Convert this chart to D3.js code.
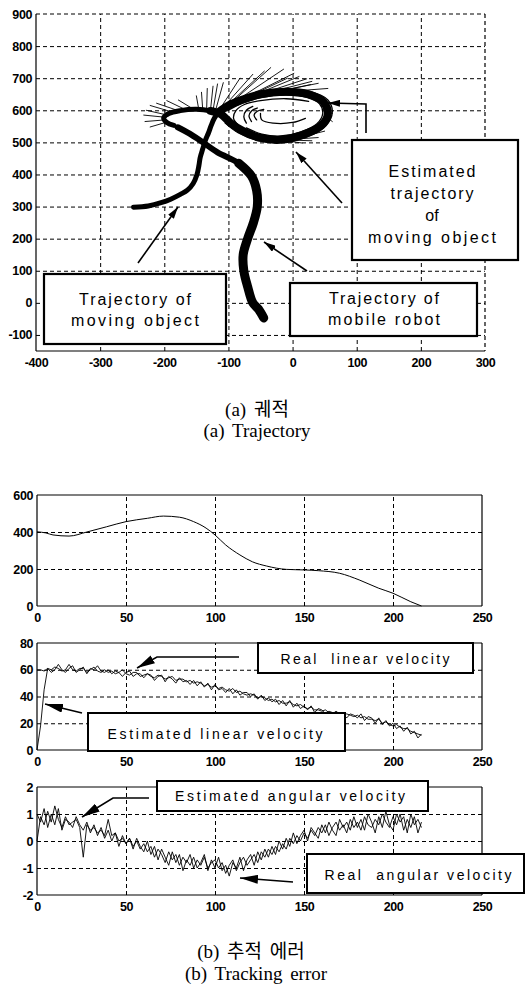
<!DOCTYPE html>
<html>
<head>
<meta charset="utf-8">
<script src="https://cdn.jsdelivr.net/npm/d3@7"></script>
<style>
  body { margin: 0; background: #fff; }
  svg { display: block; }
</style>
</head>
<body>
<script>
// ---- data ----
// (a) trajectory plot
const trajXTicks = [-400, -300, -200, -100, 0, 100, 200, 300];
const trajYTicks = [-100, 0, 100, 200, 300, 400, 500, 600, 700, 800, 900];

// mobile robot (x, y) from the end dot upward
const robotPath = [[-45,-47],[-53,-20],[-62,0],[-70,50],[-76,100],[-77,150],[-70,200],[-61,250],
  [-55,300],[-56,350],[-64,395],[-84,435],[-117,469],[-144,506],[-164,531],[-179,547]];

// moving object: start, loop, hook
const objectPath = [[-248,298],[-225,302],[-205,312],[-190,323],[-175,338],[-164,351],[-155,372],
  [-149,400],[-146,428],[-144,453],[-140,480],[-136,506],[-131,530],[-127,552],[-122,575],[-115,595],
  [-100,615],[-80,632],[-50,650],[-10,658],[25,650],[48,626],[55,590],[45,553],[15,523],[-19,508],
  [-50,514],[-77,535],[-97,561],[-112,588],[-128,598],[-150,603],[-175,599],[-193,590],[-201,576],
  [-196,562],[-185,553]];

// estimated trajectory strands inside / around the loop
const loopStrands = [
  [[-105,610],[-80,638],[-45,660],[-5,666],[30,657],[55,632],[62,595],[52,552],[20,515],[-20,500],[-55,506],[-85,530],[-105,560]],
  [[-100,600],[-78,622],[-48,640],[-10,647],[22,640],[42,620],[47,590],[38,558],[12,532],[-18,520],[-48,526],[-72,545]],
  [[-72,560],[-76,580],[-72,600],[-62,612]],
  [[-64,565],[-68,582],[-64,598],[-55,607]],
  [[-56,570],[-60,585],[-55,597],[-45,603]],
  [[-50,590],[-48,570],[-30,560],[0,562],[20,575]],
  [[-85,555],[-92,575],[-88,600],[-75,618],[-50,630],[-10,636],[25,628]]
];

// short estimated trajectories [x1, y1, x2, y2]
const estStrokes = [
  [-195,585,-228,600],[-197,578,-232,585],[-199,570,-230,565],[-198,562,-222,548],
  [-190,596,-222,615],[-180,600,-212,622],[-168,603,-196,630],[-155,604,-178,632],
  [-146,600,-150,645],[-140,600,-142,656],[-134,600,-133,668],[-128,600,-124,675],
  [-124,600,-117,682],[-120,600,-108,686],
  [-114,602,-82,700],[-110,605,-62,712],[-106,608,-44,722],[-102,612,-34,733],
  [-98,616,-14,728],[-92,622,2,715],[-84,628,-8,700],[-74,636,10,705],[-64,642,22,698],
  [-54,647,30,690],[-44,651,40,684],[-30,655,28,680],[-18,657,55,668],
  [-40,512,0,500],[-30,510,15,498],[-15,508,30,505],[0,510,40,515],[20,520,50,535],
  [50,600,62,590],[52,580,62,565],[48,630,58,620]
];

// (b) tracking error plots
const timeTicks = [0, 50, 100, 150, 200, 250];
const distTicks = [0, 200, 400, 600];
const linTicks = [0, 20, 40, 60, 80];
const angTicks = [-2, -1, 0, 1, 2];

const distT = [0,5,9,18,28,39,50,62,71,80,88,95,100,106,114,121,129,140,150,158,170,181,192,200,210,216];
const distV = [401,395,384,378,400,428,456,474,486,480,456,421,384,330,276,239,216,198,195,191,177,141,96,69,23,0];

// samples every 2 time units, t = 0 .. 216
const velT = d3.range(0, 217, 2);

const realLin = [
  60,60,59,61,60,62,61,59,60,64, 60,59,61,61,58,60,62,59,58,60,
  58,59,57,58,60,57,56,58,58,55, 56,57,55,54,56,55,53,54,55,52,
  53,53,51,52,50,51,50,48,49,47, 48,46,47,45,44,46,43,44,42,41,
  42,41,39,40,39,37,38,36,37,35, 35,36,34,33,34,32,31,32,30,30,
  29,30,28,27,29,27,26,27,26,25, 26,24,25,23,23,22,23,20,21,19,
  18,19,17,16,16,14,13,12,11];

const estLin = [
  0,18,45,61,58,60,64,60,58,61, 63,58,60,62,57,61,60,63,59,58,
  60,57,59,58,55,58,59,55,57,57, 54,57,56,52,55,56,51,55,53,50,
  54,51,52,49,52,48,51,47,50,45, 49,45,46,43,46,42,45,41,43,43,
  40,42,38,41,37,39,36,38,34,37, 33,37,32,35,31,33,30,33,28,31,
  30,27,29,28,25,28,27,24,27,26, 24,27,22,25,24,20,24,19,22,18,
  20,16,18,14,17,12,14,9,12];

const realAng = [
  0.0,0.9,0.6,1.1,0.7,1.3,0.8,0.5,0.9,0.6, 0.7,0.8,0.5,-0.6,0.6,0.4,0.5,0.3,0.4,0.2,
  0.8,0.2,0.3,0.0,0.1,-0.1,0.1,-0.2,0.0,-0.3, -0.1,-0.4,-0.2,-0.6,-0.3,-0.5,-0.8,-0.4,-0.7,-0.5,
  -0.9,-0.6,-0.8,-0.5,-1.0,-0.7,-0.9,-0.6,-1.0,-0.8, -0.7,-1.0,-0.8,-1.2,-0.9,-0.7,-1.1,-0.8,-0.6,-0.9,
  -0.7,-0.5,-0.8,-0.4,-0.6,-0.3,-0.5,-0.2,-0.4,-0.1, -0.3,0.1,-0.1,0.2,0.0,0.3,0.1,0.4,0.2,0.5,
  0.3,0.6,0.2,0.5,0.7,0.4,0.6,0.3,0.8,0.5, 0.7,0.4,0.9,0.6,0.5,0.8,0.6,1.0,0.7,0.5,
  0.9,0.6,1.0,0.4,0.8,0.5,0.9,0.3,0.7];

const estAng = [
  1.0,0.7,1.2,0.5,1.0,0.6,1.2,0.4,0.8,0.7, 0.5,0.9,0.6,0.4,0.7,0.3,0.6,0.2,0.5,0.1,
  0.4,0.0,0.3,-0.2,0.2,-0.1,0.1,-0.3,0.1,-0.2, -0.4,0.0,-0.5,-0.2,-0.7,-0.3,-0.6,-0.9,-0.4,-0.8,
  -0.5,-1.1,-0.7,-0.9,-0.6,-1.0,-0.8,-0.5,-1.1,-0.7, -1.0,-0.6,-1.1,-0.9,-1.3,-0.8,-1.0,-0.6,-1.1,-0.7,
  -0.5,-0.9,-0.4,-0.7,-0.3,-0.6,-0.2,-0.5,0.0,-0.3, 0.1,-0.2,0.3,-0.1,0.2,0.4,0.0,0.5,0.3,0.1,
  0.6,0.3,0.7,0.4,0.2,0.8,0.5,0.7,0.4,0.9, 0.5,0.8,0.4,1.0,0.7,0.3,0.9,0.5,1.1,0.6,
  0.4,1.0,0.7,0.9,0.3,1.0,0.6,0.8,0.5];

// ---- drawing ----
const svg = d3.select("body").append("svg")
  .attr("width", 526)
  .attr("height", 987)
  .style("background-color", "#fff");

const sans = "Arial, 'Liberation Sans', sans-serif";
const serif = "'Liberation Serif', 'Times New Roman', 'Noto Sans CJK KR', serif";

// arrow heads
const defs = svg.append("defs");
function marker(id, len, wid) {
  defs.append("marker")
    .attr("id", id)
    .attr("markerUnits", "userSpaceOnUse")
    .attr("viewBox", `0 ${-wid / 2} ${len} ${wid}`)
    .attr("refX", len).attr("refY", 0)
    .attr("markerWidth", len).attr("markerHeight", wid)
    .attr("orient", "auto")
    .append("path")
    .attr("d", `M0,${-wid / 2}L${len},0L0,${wid / 2}Z`)
    .attr("fill", "#000");
}
marker("headS", 12, 7);
marker("headL", 18, 9);

// grid, border and tick labels for one panel
function panel(x, y, xTicks, yTicks, dashedEdges) {
  const [xl, xr] = x.range();
  const [yb, yt] = y.range();
  const [d0, d1] = y.domain();
  const g = svg.append("g");

  g.append("g")
    .attr("transform", `translate(0,${yb})`)
    .call(d3.axisBottom(x).tickValues(xTicks.slice(1, -1)).tickSize(-(yb - yt)).tickFormat(""))
    .call(a => a.select(".domain").remove())
    .selectAll("line").attr("stroke", "#000").attr("stroke-dasharray", "4,3");

  g.append("g")
    .attr("transform", `translate(${xl},0)`)
    .call(d3.axisLeft(y).tickValues(yTicks.filter(v => v > d0 && v < d1)).tickSize(-(xr - xl)).tickFormat(""))
    .call(a => a.select(".domain").remove())
    .selectAll("line").attr("stroke", "#000").attr("stroke-dasharray", "4,3");

  // border
  const edge = (x1, y1, x2, y2, dashed) => g.append("line")
    .attr("x1", x1).attr("y1", y1).attr("x2", x2).attr("y2", y2)
    .attr("stroke", "#000").attr("stroke-width", 1.2)
    .attr("stroke-dasharray", dashed ? "4,3" : null);
  edge(xl, yt, xl, yb, false);
  edge(xl, yb, xr, yb, false);
  edge(xl, yt, xr, yt, dashedEdges);
  edge(xr, yt, xr, yb, dashedEdges);

  // tick labels
  g.append("g")
    .attr("transform", `translate(${xl},0)`)
    .call(d3.axisLeft(y).tickValues(yTicks).tickSize(0).tickPadding(4).tickFormat(d => String(d)))
    .call(a => a.select(".domain").remove())
    .selectAll("text")
    .attr("font-family", sans).attr("font-size", 12.5).attr("font-weight", "bold")
    .attr("letter-spacing", -0.4).attr("fill", "#000");

  g.append("g")
    .attr("transform", `translate(0,${yb})`)
    .call(d3.axisBottom(x).tickValues(xTicks).tickSize(0).tickPadding(7).tickFormat(d => String(d)))
    .call(a => a.select(".domain").remove())
    .selectAll("text")
    .attr("font-family", sans).attr("font-size", 12.5).attr("font-weight", "bold")
    .attr("letter-spacing", -0.4).attr("fill", "#000");
  return g;
}

// annotation box with centred lines of text
function label(bx, by, bw, bh, cx, lines, size, sw) {
  const g = svg.append("g");
  g.append("rect")
    .attr("x", bx).attr("y", by).attr("width", bw).attr("height", bh)
    .attr("fill", "#fff").attr("stroke", "#000").attr("stroke-width", sw);
  lines.forEach(([t, base, len]) => {
    g.append("text")
      .attr("x", cx).attr("y", base)
      .attr("text-anchor", "middle")
      .attr("font-family", sans).attr("font-size", size)
      .attr("textLength", len)
      .attr("lengthAdjust", len ? "spacing" : null)
      .attr("xml:space", "preserve")
      .text(t);
  });
}

function arrow(points, head) {
  svg.append("path")
    .attr("d", d3.line()(points))
    .attr("fill", "none").attr("stroke", "#000").attr("stroke-width", 1.6)
    .attr("marker-end", `url(#${head})`);
}

function caption(cx, base, t) {
  svg.append("text").attr("x", cx).attr("y", base).attr("text-anchor", "middle")
    .attr("font-family", serif).attr("font-size", 19).attr("word-spacing", 3)
    .attr("xml:space", "preserve").text(t);
}

// ---- (a) trajectory ----
const tx = d3.scaleLinear([-400, 300], [36, 485]);
const ty = d3.scaleLinear([-150, 900], [351, 14]);
panel(tx, ty, trajXTicks, trajYTicks, true);

const trajLine = d3.line().x(d => tx(d[0])).y(d => ty(d[1])).curve(d3.curveCatmullRom.alpha(0.5));
const trajG = svg.append("g").attr("fill", "none").attr("stroke", "#000").attr("stroke-linecap", "round");

trajG.append("path").attr("d", trajLine(robotPath.slice(0, 12))).attr("stroke-width", 9);
trajG.append("path").attr("d", trajLine(robotPath.slice(10))).attr("stroke-width", 6);
trajG.append("path").attr("d", trajLine(objectPath.slice(0, 17))).attr("stroke-width", 5);
trajG.append("path").attr("d", trajLine(objectPath.slice(15, 31))).attr("stroke-width", 8);
trajG.append("path").attr("d", trajLine(objectPath.slice(29))).attr("stroke-width", 5);

trajG.selectAll("path.strand")
  .data(loopStrands)
  .join("path")
  .attr("class", "strand")
  .attr("d", d => trajLine(d))
  .attr("stroke-width", 1.3);

trajG.selectAll("line.est")
  .data(estStrokes)
  .join("line")
  .attr("class", "est")
  .attr("x1", d => tx(d[0])).attr("y1", d => ty(d[1]))
  .attr("x2", d => tx(d[2])).attr("y2", d => ty(d[3]))
  .attr("stroke-width", 0.9);

label(44, 274, 182, 70, 135, [["Trajectory of", 305, 112], ["moving object", 326, 128]], 16, 2.2);
label(290, 283, 187, 53, 384, [["Trajectory of", 304, 110], ["mobile robot", 325, 112]], 16, 2.2);
label(352, 140, 166, 120, 432, [["Estimated", 177, 87], ["trajectory", 199, 83], ["of", 221, null],
  ["moving object", 243, 128]], 16, 2.2);

arrow([[138, 263], [178, 207]], "headS");
arrow([[307, 271], [264, 242]], "headS");
arrow([[342, 203], [296, 152]], "headS");
arrow([[366, 133], [366, 104], [328, 103]], "headS");

caption(257, 416, "(a) 궤적");
caption(257, 437, "(a) Trajectory");

// ---- (b) tracking error ----
const bx = d3.scaleLinear([0, 250], [37, 482]);
const yDist = d3.scaleLinear([0, 600], [606, 495]);
const yLin = d3.scaleLinear([0, 80], [750, 643]);
const yAng = d3.scaleLinear([-2, 2], [895, 787]);

panel(bx, yDist, timeTicks, distTicks, false);
panel(bx, yLin, timeTicks, linTicks, false);
panel(bx, yAng, timeTicks, angTicks, false);

const seriesG = svg.append("g").attr("fill", "none").attr("stroke", "#000");

seriesG.append("path")
  .attr("d", d3.line().x((d, i) => bx(distT[i])).y(d => yDist(d)).curve(d3.curveMonotoneX)(distV))
  .attr("stroke-width", 1);

function noisy(values, yScale, w) {
  seriesG.append("path")
    .attr("d", d3.line().x((d, i) => bx(velT[i])).y(d => yScale(d))(values))
    .attr("stroke-width", w);
}
noisy(realLin, yLin, 0.9);
noisy(estLin, yLin, 0.9);
noisy(realAng, yAng, 0.9);
noisy(estAng, yAng, 0.9);

label(258, 643, 215, 30, 365, [["Real  linear velocity", 664, 169]], 14, 2);
label(88, 713, 257, 38, 215, [["Estimated linear velocity", 739, 215]], 14, 2);
label(157, 781, 271, 30, 290, [["Estimated angular velocity", 801, 230]], 14, 2);
label(307, 854, 217, 39, 418, [["Real  angular velocity", 880, 187]], 14, 2);

arrow([[239, 657], [157, 657], [137, 668]], "headL");
arrow([[82, 713], [45, 704]], "headL");
arrow([[149, 798], [113, 798], [82, 817]], "headL");
arrow([[293, 882], [240, 878]], "headL");

caption(251, 958, "(b) 추적 에러");
caption(256, 980, "(b) Tracking error");
</script>
</body>
</html>
